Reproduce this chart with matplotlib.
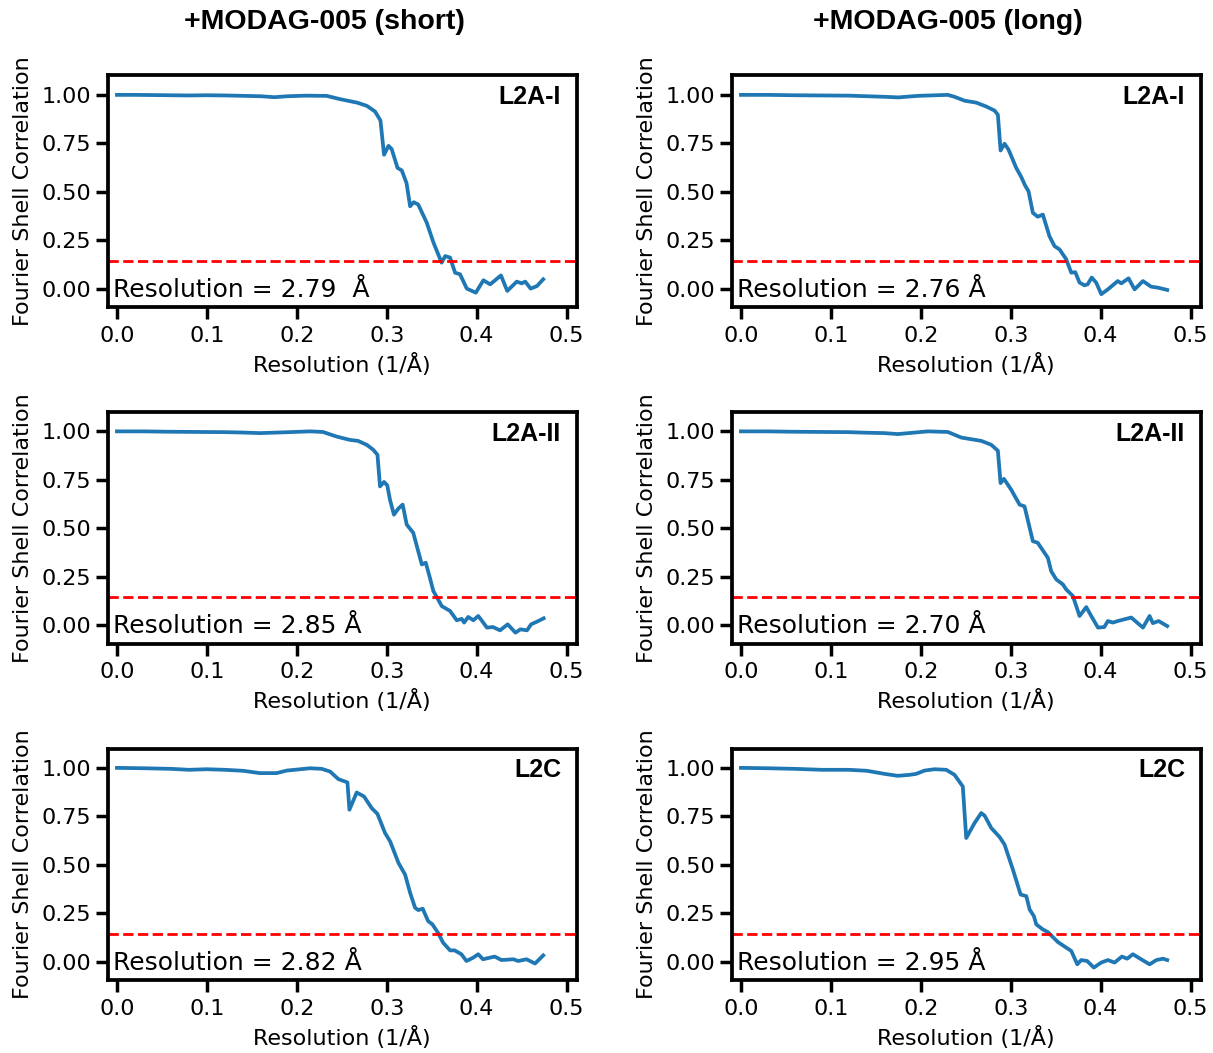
import matplotlib
matplotlib.use("Agg")
import matplotlib.pyplot as plt
from matplotlib import font_manager as fm

# ---------------- data ----------------
col_titles = ["+MODAG-005 (short)", "+MODAG-005 (long)"]
row_labels = ["L2A-I", "L2A-II", "L2C"]

res_short = ["2.79  Å", "2.85 Å", "2.82 Å"]
res_long = ["2.76 Å", "2.70 Å", "2.95 Å"]

threshold = 0.143

x_short_l2a1 = [0.0, 0.02, 0.04, 0.06, 0.08, 0.10, 0.12, 0.14, 0.16, 0.175, 0.19, 0.21, 0.226, 0.233,
                0.248, 0.267, 0.278, 0.287, 0.293, 0.297, 0.302, 0.3055, 0.312, 0.3167, 0.322, 0.326,
                0.330, 0.335, 0.3445, 0.352, 0.361, 0.365, 0.3704, 0.376, 0.3815, 0.389, 0.399, 0.4075,
                0.415, 0.427, 0.434, 0.4446, 0.450, 0.454, 0.460, 0.467, 0.474]
y_short_l2a1 = [1.0, 1.0, 0.999, 0.998, 0.997, 0.998, 0.997, 0.995, 0.993, 0.988, 0.993, 0.996, 0.995, 0.995,
                0.978, 0.96, 0.943, 0.914, 0.868, 0.691, 0.737, 0.72, 0.623, 0.610, 0.545, 0.425,
                0.446, 0.434, 0.34, 0.237, 0.134, 0.168, 0.16, 0.082, 0.074, 0.0, -0.021, 0.043,
                0.022, 0.068, -0.012, 0.036, 0.027, 0.036, 0.0, 0.013, 0.048]

x_long_l2a1 = [0.0, 0.03, 0.06, 0.09, 0.12, 0.14, 0.16, 0.175, 0.197, 0.230, 0.2375, 0.2486, 0.2616,
               0.2727, 0.282, 0.2857, 0.2887, 0.2931, 0.2976, 0.3061, 0.3117, 0.316, 0.3198, 0.3246,
               0.330, 0.3357, 0.343, 0.3487, 0.3543, 0.3617, 0.3673, 0.3717, 0.3765, 0.382, 0.3855,
               0.390, 0.395, 0.4007, 0.408, 0.419, 0.423, 0.431, 0.4377, 0.447, 0.456, 0.4635, 0.474]
y_long_l2a1 = [1.0, 1.0, 0.998, 0.997, 0.996, 0.993, 0.99, 0.987, 0.995, 1.0, 0.99, 0.97, 0.96,
               0.94, 0.919, 0.897, 0.713, 0.748, 0.717, 0.623, 0.576, 0.532, 0.502, 0.391,
               0.371, 0.382, 0.271, 0.219, 0.202, 0.151, 0.082, 0.085, 0.031, 0.017, 0.022,
               0.057, 0.031, -0.029, -0.004, 0.039, 0.027, 0.053, -0.004, 0.039, 0.01, 0.005, -0.007]

x_short_l2a2 = [0.0, 0.03, 0.06, 0.09, 0.12, 0.14, 0.159, 0.185, 0.2147, 0.229, 0.2444, 0.259, 0.268,
                0.278, 0.285, 0.2897, 0.2925, 0.297, 0.3006, 0.3036, 0.308, 0.3128, 0.3177, 0.3222,
                0.3295, 0.333, 0.339, 0.3434, 0.348, 0.3518, 0.3556, 0.3612, 0.3704, 0.3778, 0.3834,
                0.386, 0.3906, 0.3963, 0.4017, 0.4054, 0.4114, 0.418, 0.426, 0.4345, 0.4431, 0.4486,
                0.456, 0.4605, 0.4672, 0.4745]
y_short_l2a2 = [1.0, 1.0, 0.998, 0.997, 0.996, 0.994, 0.991, 0.995, 1.0, 0.997, 0.973, 0.956, 0.951,
                0.93, 0.905, 0.879, 0.716, 0.739, 0.721, 0.647, 0.570, 0.601, 0.622, 0.519,
                0.476, 0.416, 0.313, 0.322, 0.244, 0.176, 0.145, 0.098, 0.073, 0.025, 0.032,
                0.013, 0.042, 0.025, 0.047, 0.025, -0.013, -0.01, -0.027, 0.004, -0.039, -0.022,
                -0.027, 0.004, 0.018, 0.035]

x_long_l2a2 = [0.0, 0.03, 0.06, 0.09, 0.12, 0.14, 0.1596, 0.1744, 0.2078, 0.230, 0.245, 0.2672, 0.2783,
               0.2857, 0.2887, 0.2924, 0.3005, 0.3098, 0.3153, 0.3246, 0.330, 0.3413, 0.345, 0.3506,
               0.358, 0.3617, 0.3691, 0.3765, 0.384, 0.3895, 0.397, 0.404, 0.408, 0.4135, 0.419,
               0.434, 0.447, 0.4544, 0.458, 0.4644, 0.474]
y_long_l2a2 = [1.0, 1.0, 0.998, 0.997, 0.996, 0.993, 0.991, 0.986, 1.0, 0.997, 0.968, 0.951, 0.931,
               0.9, 0.733, 0.755, 0.699, 0.622, 0.613, 0.433, 0.425, 0.347, 0.278, 0.236,
               0.21, 0.184, 0.15, 0.047, 0.093, 0.047, -0.013, -0.01, 0.021, 0.013, 0.021,
               0.039, -0.013, 0.047, 0.01, 0.021, -0.005]

x_short_l2c = [0.0, 0.03, 0.06, 0.08, 0.10, 0.12, 0.14, 0.159, 0.1776, 0.1888, 0.2147, 0.2277, 0.237,
               0.2462, 0.2563, 0.2585, 0.2666, 0.2748, 0.2833, 0.2896, 0.2981, 0.3037, 0.313, 0.3204,
               0.326, 0.3315, 0.335, 0.34, 0.346, 0.3508, 0.357, 0.3626, 0.3704, 0.3755, 0.383,
               0.3886, 0.396, 0.4017, 0.407, 0.4145, 0.42, 0.4275, 0.441, 0.446, 0.4554, 0.4649, 0.474]
y_short_l2c = [1.0, 0.998, 0.995, 0.99, 0.993, 0.99, 0.985, 0.973, 0.973, 0.986, 0.998, 0.995, 0.981,
               0.942, 0.925, 0.784, 0.873, 0.852, 0.792, 0.763, 0.664, 0.621, 0.51, 0.449,
               0.355, 0.278, 0.266, 0.273, 0.209, 0.192, 0.149, 0.098, 0.058, 0.058, 0.038,
               0.003, 0.02, 0.038, 0.012, 0.02, 0.026, 0.008, 0.012, 0.003, 0.012, -0.01, 0.032]

x_long_l2c = [0.0, 0.03, 0.06, 0.09, 0.12, 0.14, 0.1596, 0.1744, 0.1874, 0.1948, 0.2041, 0.2152, 0.2283,
              0.2375, 0.2467, 0.2505, 0.2597, 0.2672, 0.271, 0.2783, 0.2876, 0.2931, 0.3024, 0.311,
              0.3173, 0.321, 0.3257, 0.3284, 0.3357, 0.3413, 0.3524, 0.3617, 0.3673, 0.374, 0.3784,
              0.385, 0.3924, 0.4006, 0.408, 0.4154, 0.4236, 0.4295, 0.4358, 0.445, 0.4544, 0.462,
              0.4693, 0.474]
y_long_l2c = [1.0, 0.998, 0.995, 0.99, 0.99, 0.985, 0.969, 0.959, 0.964, 0.969, 0.986, 0.993, 0.99,
              0.964, 0.904, 0.638, 0.715, 0.767, 0.753, 0.69, 0.643, 0.604, 0.475, 0.346,
              0.338, 0.269, 0.235, 0.192, 0.166, 0.152, 0.101, 0.072, 0.055, -0.014, 0.008,
              0.003, -0.031, -0.005, 0.008, -0.005, 0.026, 0.015, 0.038, 0.012, -0.014, 0.008,
              0.015, 0.008]

curves = [
    [(x_short_l2a1, y_short_l2a1), (x_long_l2a1, y_long_l2a1)],
    [(x_short_l2a2, y_short_l2a2), (x_long_l2a2, y_long_l2a2)],
    [(x_short_l2c, y_short_l2c), (x_long_l2c, y_long_l2c)],
]
res_texts = [res_short, res_long]

xticks = [0.0, 0.1, 0.2, 0.3, 0.4, 0.5]
yticks = [0.0, 0.25, 0.5, 0.75, 1.0]

# ---------------- fonts ----------------
bold_path = None
for f in fm.findSystemFonts():
    name = f.split("/")[-1]
    if name == "LiberationSans-Bold.ttf":
        bold_path = f
        break


def bold_fp(size):
    if bold_path:
        return fm.FontProperties(fname=bold_path, size=size)
    return fm.FontProperties(family="DejaVu Sans", weight="bold", size=size)


# ---------------- figure ----------------
W, H = 1213, 1053
fig = plt.figure(figsize=(W / 100, H / 100), dpi=100)

col_left = [107.5, 731.5]
ax_w = 469
row_top = [75.5, 412.0, 748.5]
ax_h = 231.5

for r in range(3):
    for c in range(2):
        l = col_left[c] / W
        b = 1 - (row_top[r] + ax_h) / H
        ax = fig.add_axes([l, b, ax_w / W, ax_h / H])
        xs, ys = curves[r][c]
        ax.plot(xs, ys, color="#1f77b4", lw=2.7, solid_joinstyle="round")
        ax.axhline(threshold, color="red", ls="--", lw=2.0)
        ax.set_xlim(-0.0105, 0.511)
        ax.set_ylim(-0.095, 1.1)
        ax.set_xticks(xticks)
        ax.set_xticklabels([f"{t:.1f}" for t in xticks])
        ax.set_yticks(yticks)
        ax.set_yticklabels([f"{t:.2f}" for t in yticks])
        for s in ax.spines.values():
            s.set_linewidth(2.7)
        ax.tick_params(axis="both", which="major", length=8.5, width=2.5,
                       labelsize=16)
        ax.tick_params(axis="x", pad=5)
        ax.tick_params(axis="y", pad=3)
        ax.set_xlabel("Resolution (1/Å)", fontsize=16, labelpad=5)
        ax.set_ylabel("Fourier Shell Correlation", fontsize=16, labelpad=6)
        ax.text(0.967, 0.905, row_labels[r], transform=ax.transAxes,
                ha="right", va="center", fontproperties=bold_fp(18))
        ax.text(0.011, 0.045, "Resolution = " + res_texts[c][r], transform=ax.transAxes,
                ha="left", va="baseline", fontsize=18)

fig.text(324 / W, 1 - 22 / H, col_titles[0], ha="center", va="center",
         fontproperties=bold_fp(20.5))
fig.text(948 / W, 1 - 22 / H, col_titles[1], ha="center", va="center",
         fontproperties=bold_fp(20.5))

fig.savefig("out.png", dpi=100)
